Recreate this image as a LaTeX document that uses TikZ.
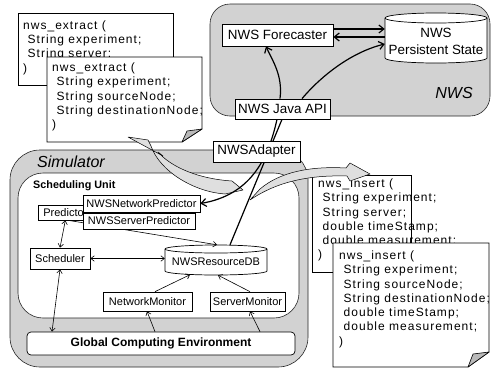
\documentclass[tikz,border=0pt]{standalone}
\usepackage{fontspec}
\setmainfont{Liberation Sans}
\newfontfamily\notefont[LetterSpace=8.5]{Liberation Sans}
\usetikzlibrary{arrows.meta}
\pgfdeclarelayer{back}
\pgfdeclarelayer{mid}
\pgfsetlayers{back,mid,main}
\begin{document}
\begin{tikzpicture}[x=1pt,y=-1pt,
 regionbox/.style={draw=black!85, line width=0.6pt, fill=gray!35},
 box/.style={draw, fill=white, line width=0.7pt, inner sep=0pt},
 nwsf/.style={font=\fontsize{13.4}{17}\selectfont},
 simf/.style={font=\fontsize{11}{13}\selectfont},
 notebox/.style={draw, fill=white, line width=0.8pt, line join=miter},
 notetext/.style={anchor=north west, align=left, inner sep=0pt, font=\notefont\fontsize{12}{14.3}\selectfont},
 foldflap/.style={draw, fill=gray!55, line width=0.6pt, line join=round},
 blockarrow/.style={draw, fill=gray!25, line width=0.5pt, line join=round},
 cylst/.style={draw, fill=white, line width=0.7pt},
 tc/.style={line width=1.2pt, -{Straight Barb[length=5pt,width=8pt]}},
 tl/.style={line width=1.2pt},
 sc/.style={line width=0.6pt, -{Straight Barb[length=3.5pt,width=5.5pt]}},
 scb/.style={line width=0.6pt, {Straight Barb[length=3.5pt,width=5.5pt]}-{Straight Barb[length=3.5pt,width=5.5pt]}},
]
\path[use as bounding box] (0,0) rectangle (494,370);

\begin{pgfonlayer}{back}
% NWS region
\draw[regionbox, rounded corners=20pt] (210,4) rectangle (490,116);
% extract notes
\draw[notebox] (18,13) rectangle (173,85);
\node[notetext] (ex1) at (23,20.5) {nws\_extract (\\\hspace*{4.5pt}String experiment;\\\hspace*{4.5pt}String server;\\)};
\draw[notebox] (47,57) -- (202,57) -- (202,129) -- (182,142) -- (47,142) -- cycle;
\draw[foldflap] (182,142) -- (187,131) -- (202,129) -- cycle;
\node[notetext] (ex2) at (52,62.5) {nws\_extract (\\\hspace*{4.5pt}String experiment;\\\hspace*{4.5pt}String sourceNode;\\\hspace*{4.5pt}String destinationNode;\\)};
% Simulator
\draw[regionbox, rounded corners=30pt] (10,150) rectangle (308,367);
\draw[draw=black!85, line width=0.6pt, fill=white, rounded corners=25pt] (18,173) rectangle (299,318);
% insert notes
\draw[notebox] (312,175) rectangle (411,272);
\node[notetext] (in1) at (318,178.5) {nws\_insert (\\\hspace*{4.5pt}String experiment;\\\hspace*{4.5pt}String server;\\\hspace*{4.5pt}double timeStamp;\\\hspace*{4.5pt}double measurement;\\)};
\draw[notebox] (333,243) -- (489,243) -- (489,352) -- (468,367) -- (333,367) -- cycle;
\draw[foldflap] (468,367) -- (473,354) -- (489,352) -- cycle;
\node[notetext] (in2) at (339,250.5) {nws\_insert (\\\hspace*{4.5pt}String experiment;\\\hspace*{4.5pt}String sourceNode;\\\hspace*{4.5pt}String destinationNode;\\\hspace*{4.5pt}double timeStamp;\\\hspace*{4.5pt}double measurement;\\)};
% block arrows
\draw[blockarrow] (128,137) -- (148,140) -- (151,146) .. controls (160,172) and (195,192) .. (225,194) -- (243,190) -- (232,181) .. controls (200,179) and (172,168) .. (158,152) -- (163,156) -- cycle;
\draw[blockarrow] (250,200) -- (260,189) .. controls (280,172) and (310,166) .. (346,168) -- (350,163) -- (370,174) -- (350,181) -- (347,176) .. controls (310,175) and (278,181) .. (250,200) -- cycle;
% cylinders
\draw[cylst] (385,18) -- (385,58) arc[start angle=180,end angle=360,x radius=51pt,y radius=5pt] -- (487,18) arc[start angle=0,end angle=180,x radius=51pt,y radius=5pt] -- cycle;
\draw[line width=0.7pt] (385,18) arc[start angle=180,end angle=360,x radius=51pt,y radius=5pt];
\draw[cylst] (165,249) -- (165,271) arc[start angle=180,end angle=360,x radius=51pt,y radius=4pt] -- (267,249) arc[start angle=0,end angle=180,x radius=51pt,y radius=4pt] -- cycle;
\draw[line width=0.7pt] (165,249) arc[start angle=180,end angle=360,x radius=51pt,y radius=4pt];
\end{pgfonlayer}

% labels
\node[font=\fontsize{16}{19}\selectfont\itshape] (nwslabel) at (454,93) {NWS};
\node[font=\fontsize{16}{19}\selectfont\itshape, anchor=west, inner sep=0pt] (simlabel) at (37,162) {Simulator};
\node[font=\fontsize{10.8}{13}\selectfont\bfseries, anchor=west, inner sep=0pt] (sulabel) at (33,186) {Scheduling Unit};

% NWS nodes
\node[box, nwsf, minimum width=111pt, minimum height=22pt] (forecaster) at (277.5,35) {NWS Forecaster};
\node[minimum width=102pt, minimum height=50pt, inner sep=0pt] (ps) at (436,38) {};
\node[nwsf, align=center, inner sep=0pt] (pstext) at (436,41.5) {NWS\\Persistent State};
\node[box, nwsf, minimum width=95pt, minimum height=20pt] (javaapi) at (282.5,109) {NWS Java API};

% Simulator nodes
\node[box, simf, anchor=west, minimum height=15pt, inner xsep=5pt] (predictor) at (38,212.5) {Predictor};
\node[box, simf, minimum width=117pt, minimum height=17pt] (netpred) at (141.5,203.5) {NWSNetworkPredictor};
\node[box, simf, minimum width=112pt, minimum height=16pt] (srvpred) at (139,221) {NWSServerPredictor};
\node[box, simf, minimum width=60pt, minimum height=21pt] (scheduler) at (60,258.5) {Scheduler};
\node[minimum width=102pt, minimum height=30pt, inner sep=0pt] (resdb) at (216,260) {};
\node[simf, inner sep=0pt] (resdbtext) at (216,261.5) {NWSResourceDB};
\node[box, simf, minimum width=89pt, minimum height=19pt] (netmon) at (147.5,301.5) {NetworkMonitor};
\node[box, simf, minimum width=75pt, minimum height=19pt] (srvmon) at (247.5,301.5) {ServerMonitor};
\node[box, font=\fontsize{12}{14}\selectfont\bfseries, minimum width=268pt, minimum height=23pt, rounded corners=4pt] (gce) at (161,343.5) {Global Computing Environment};

\node[box, nwsf, minimum width=87pt, minimum height=21pt] (adapter) at (256.5,151.5) {NWSAdapter};

\begin{pgfonlayer}{mid}
\coordinate (fa) at ([yshift=6pt]forecaster.east);
\coordinate (fb) at ([yshift=-2pt]forecaster.east);
\draw[tc] (fa) -- (fa -| ps.west);
\draw[tc] (fb -| ps.west) -- (fb);
\draw[tc] ([xshift=-2.5pt]javaapi.north) .. controls (283,75) and (272,60) .. ([xshift=-11.5pt]forecaster.south);
\draw[tc] ([xshift=19.5pt]javaapi.north) .. controls (322,75) and (352,52) .. ([yshift=-6pt]ps.west);
\draw[tl] ([xshift=-0.5pt]javaapi.south) -- ([xshift=14pt]resdb.north);
\draw[tc] ([xshift=-5.5pt]javaapi.south) .. controls (268,160) and (250,195) .. (netpred.east);

\draw[scb] (predictor.south) -- (scheduler.north);
\draw[sc] ([xshift=3pt]predictor.south) -- ([xshift=1pt]resdb.north);
\coordinate (sa) at (scheduler.east);
\draw[scb] (sa) -- (sa -| resdb.west);
\draw[scb] (scheduler.south) -- ([xshift=-109pt]gce.north);
\draw[sc] ([xshift=7.5pt]netmon.north) -- ([xshift=-26pt,yshift=0.5pt]resdb.south);
\draw[sc] ([xshift=2.5pt]srvmon.north) -- ([xshift=2pt]resdb.south);
\draw[sc] ([xshift=-6pt]gce.north) -- ([xshift=-0.5pt]netmon.south);
\draw[sc] ([xshift=99pt]gce.north) -- ([xshift=2.5pt]srvmon.south);
\end{pgfonlayer}
\end{tikzpicture}
\end{document}
